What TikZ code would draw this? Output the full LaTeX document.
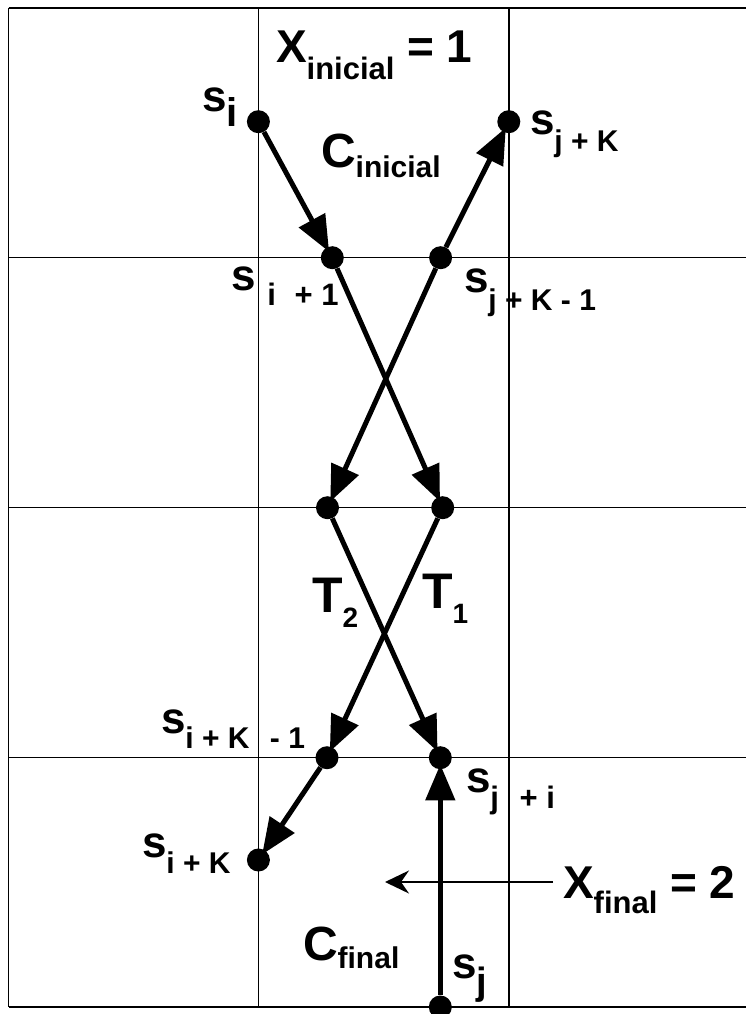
\documentclass[tikz,border=0pt]{standalone}
\usepackage{fontspec}
\setmainfont{Liberation Sans}
\usetikzlibrary{arrows.meta}
\newcommand\fsz[1]{\fontsize{#1pt}{#1pt}\selectfont}
\tikzset{
  gridline/.style={line width=1.4pt},
  dot/.style={circle, fill=black, inner sep=0pt, minimum size=23pt},
  flow/.style={line width=5pt, -{Triangle[length=36pt,width=29pt]}, shorten >=-5pt},
  thinarrow/.style={line width=2pt, -{Stealth[length=24pt,width=23pt,inset=8pt]}},
  lab/.style={anchor=base west, inner sep=0pt, outer sep=0pt, font=\bfseries},
}
\begin{document}
\begin{tikzpicture}[x=1pt,y=-1pt]
\useasboundingbox (0,0) rectangle (746,1014);
% grid
\draw[gridline] (8.6,8) -- (8.6,1007);
\draw[gridline] (258.4,8) -- (258.4,1007);
\draw[gridline] (508.8,8) -- (508.8,1007);
\draw[gridline] (8.6,8) -- (760,8);
\draw[gridline] (8.6,257.7) -- (760,257.7);
\draw[gridline] (8.6,507.7) -- (760,507.7);
\draw[gridline] (8.6,757.7) -- (760,757.7);
\draw[gridline] (8.6,1007) -- (760,1007);
% dots
\node[dot] (A) at (258.4,121.7) {};
\node[dot] (B) at (508.8,121.7) {};
\node[dot] (C) at (332.3,257.7) {};
\node[dot] (D) at (440.6,257.7) {};
\node[dot] (E) at (327.5,507.7) {};
\node[dot] (F) at (442.7,507.7) {};
\node[dot] (G) at (327.0,757.7) {};
\node[dot] (H) at (440.3,757.7) {};
\node[dot] (I) at (258.4,860) {};
\node[dot] (J) at (440.3,1007) {};
% connectors
\draw[flow] (A) -- (C);
\draw[flow] (D) -- (B);
\draw[flow] (C) -- (F);
\draw[flow] (D) -- (E);
\draw[flow] (E) -- (H);
\draw[flow] (F) -- (G);
\draw[flow] (G) -- (I);
\draw[flow] (J) -- (H);
\coordinate (xt) at (553,882);
\coordinate (xh) at (385,882);
\draw[thinarrow] (xt) -- (xh);
% labels
\node[lab] (xini) at (276,63) {\fsz{46}X\fsz{31}\raisebox{-17pt}{inicial}\fsz{46} = 1};
\node[lab] (lsi) at (202,112) {\fsz{44}s\fsz{40}\raisebox{-15pt}{i}};
\node[lab] (cini) at (321,167) {\fsz{48}C\fsz{30}\raisebox{-10pt}{inicial}};
\node[lab] (lsjk) at (530,135) {\fsz{44}s\fsz{30}\raisebox{-17pt}{j + K}};
\node[lab] (lsi1) at (231,290) {\fsz{44}s\hspace{12pt}\fsz{31}\raisebox{-15pt}{i\hspace{10pt} + 1}};
\node[lab] (lsjk1) at (464,292) {\fsz{44}s\fsz{30}\raisebox{-18pt}{j + K - 1}};
\node[lab] (lt2) at (312,612) {\fsz{50}T\fsz{28}\raisebox{-15pt}{2}};
\node[lab] (lt1) at (422,608) {\fsz{50}T\fsz{28}\raisebox{-15pt}{1}};
\node[lab] (lsik1) at (161,733) {\fsz{44}s\fsz{30}\raisebox{-15pt}{i + K\hspace{12pt} - 1}};
\node[lab] (lsji) at (466,792) {\fsz{44}s\fsz{31}\raisebox{-16pt}{j\hspace{12pt} + i}};
\node[lab] (lsik) at (142,857) {\fsz{44}s\fsz{30}\raisebox{-16pt}{i + K}};
\node[lab] (cfin) at (303,960) {\fsz{48}C\fsz{30}\raisebox{-8pt}{final}};
\node[lab] (lsj) at (452,978) {\fsz{44}s\fsz{38}\raisebox{-16pt}{j}};
\node[lab] (xfin) at (563,898) {\fsz{46}X\fsz{31}\raisebox{-15pt}{final}\fsz{46} = 2};
\end{tikzpicture}
\end{document}
